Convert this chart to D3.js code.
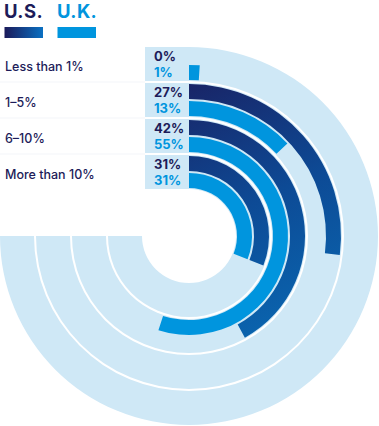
<!DOCTYPE html>
<html><head><meta charset="utf-8">
<script src="https://cdn.jsdelivr.net/npm/d3@7"></script>
<style>body{margin:0;background:#fff}svg{display:block}</style>
</head><body>
<script>
const categories = ["Less than 1%", "1–5%", "6–10%", "More than 10%"];
const seriesNames = ["U.S.", "U.K."];
const usValues = [0, 27, 42, 31];
const ukValues = [1, 13, 55, 31];

const W = 379, H = 426;
const cx = 189, cy = 236;
const outerR = 189, innerR = 47, gap = 2;
const font = "Inter, 'DejaVu Sans', sans-serif";
const navy = "#1d1c59", ukBlue = "#0095de", light = "#cfe8f6";

const svg = d3.select("body").append("svg").attr("width", W).attr("height", H);
const defs = svg.append("defs");

const g1 = defs.append("linearGradient").attr("id", "usArc")
  .attr("gradientUnits", "userSpaceOnUse")
  .attr("x1", 180 - cx).attr("y1", 50 - cy).attr("x2", 300 - cx).attr("y2", 330 - cy);
g1.append("stop").attr("offset", "0%").attr("stop-color", "#1c1b5b");
g1.append("stop").attr("offset", "55%").attr("stop-color", "#0d4a95");
g1.append("stop").attr("offset", "100%").attr("stop-color", "#0a66b0");

const g2 = defs.append("linearGradient").attr("id", "usLeg")
  .attr("x1", 0).attr("x2", 1).attr("y1", 0).attr("y2", 0);
g2.append("stop").attr("offset", "0%").attr("stop-color", "#1b1a5a");
g2.append("stop").attr("offset", "100%").attr("stop-color", "#0a70c2");

// ring scale: first category is the outermost ring
const ringBand = d3.scaleBand().domain(categories).range([outerR, innerR]).paddingInner(gap / 36);
const angle = d3.scaleLinear().domain([0, 100]).range([0, 2 * Math.PI]);

const chart = svg.append("g").attr("transform", `translate(${cx},${cy})`);
const arc = d3.arc();

categories.forEach((c, i) => {
  const rIn = ringBand(c);
  const rOut = rIn + ringBand.bandwidth();
  // background ring (270°)
  chart.append("path").attr("fill", light)
    .attr("d", arc({innerRadius: rIn, outerRadius: rOut, startAngle: 0, endAngle: angle(75)}));
  // label box
  chart.append("rect").attr("fill", light)
    .attr("x", -44).attr("y", -rOut).attr("width", 44.5).attr("height", rOut - rIn);
  // US bar
  chart.append("path").attr("fill", "url(#usArc)")
    .attr("d", arc({innerRadius: rOut - 16, outerRadius: rOut - 1, startAngle: 0, endAngle: angle(usValues[i])}));
  // UK bar
  chart.append("path").attr("fill", ukBlue)
    .attr("d", arc({innerRadius: rIn + 1, outerRadius: rIn + 16, startAngle: 0, endAngle: angle(ukValues[i])}));
  // value labels
  chart.append("text").attr("x", -35).attr("y", -rOut + 14)
    .attr("font-family", font).attr("font-weight", 700).attr("font-size", 13)
    .attr("fill", navy).text(usValues[i] + "%");
  chart.append("text").attr("x", -35).attr("y", -rOut + 29.5)
    .attr("font-family", font).attr("font-weight", 700).attr("font-size", 13)
    .attr("fill", ukBlue).text(ukValues[i] + "%");
  // category labels
  const mid = cy - (rOut + rIn) / 2;
  svg.append("text").attr("x", 5).attr("y", mid + 6.5)
    .attr("font-family", font).attr("font-weight", 500).attr("font-size", 12.5)
    .attr("fill", navy).text(c);
  if (i > 0) {
    svg.append("line").attr("x1", 0).attr("x2", cx - 44).attr("y1", cy - rOut - 1).attr("y2", cy - rOut - 1)
      .attr("stroke", "#f3f5f9").attr("stroke-width", 1);
  }
});

// legend
const legend = svg.append("g");
const legX = [4, 57];
seriesNames.forEach((n, i) => {
  legend.append("text").attr("x", legX[i]).attr("y", 18)
    .attr("font-family", font).attr("font-weight", 700).attr("font-size", 18.5)
    .attr("letter-spacing", 0.4)
    .attr("fill", i === 0 ? navy : ukBlue).text(n);
  legend.append("rect").attr("x", legX[i] + 0.5).attr("y", 27).attr("width", 38.5).attr("height", 11)
    .attr("fill", i === 0 ? "url(#usLeg)" : ukBlue);
});
</script>
</body></html>
